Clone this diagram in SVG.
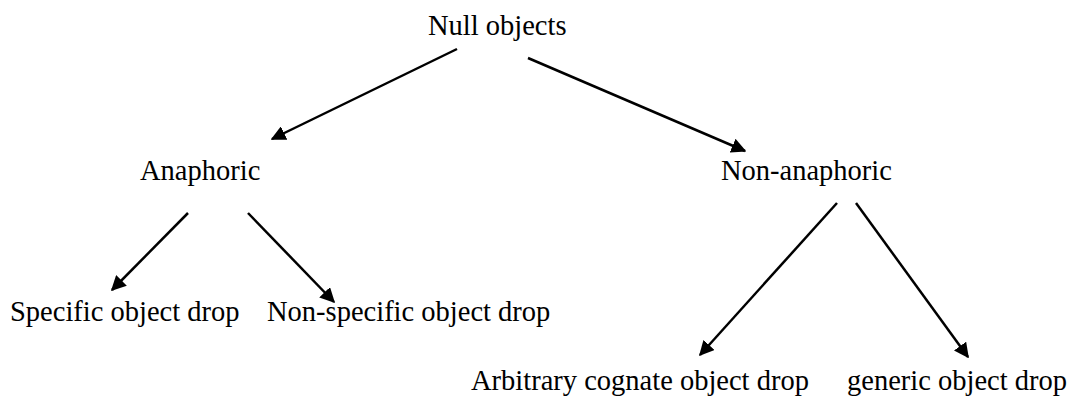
<svg xmlns="http://www.w3.org/2000/svg" width="1079" height="401" viewBox="0 0 1079 401">
<defs>
<style>
text{font-family:"Liberation Serif","Times New Roman",serif;font-size:28.5px;fill:#000}
.c line{stroke:#000;stroke-width:2.5;marker-end:url(#ah)}
</style>
<marker id="ah" viewBox="0 0 10 10" refX="9" refY="5" markerWidth="6" markerHeight="6" markerUnits="strokeWidth" orient="auto"><path d="M0,0 L10,5 L0,10 z" fill="#000"/></marker>
</defs>
<rect width="1079" height="401" fill="#fff"/>
<g id="n-null"><text x="428" y="35">Null objects</text></g>
<g id="n-anaphoric"><text x="140" y="180">Anaphoric</text></g>
<g id="n-nonanaphoric"><text x="721" y="180">Non-anaphoric</text></g>
<g id="n-specific"><text x="10" y="321">Specific object drop</text></g>
<g id="n-nonspecific"><text x="267" y="321">Non-specific object drop</text></g>
<g id="n-arbitrary"><text x="471" y="390">Arbitrary cognate object drop</text></g>
<g id="n-generic"><text x="847" y="390">generic object drop</text></g>
<g class="c" id="connectors">
<line x1="457" y1="49" x2="272" y2="139"/>
<line x1="528" y1="58" x2="745" y2="151"/>
<line x1="188" y1="213" x2="112" y2="290"/>
<line x1="248" y1="213" x2="334" y2="302"/>
<line x1="837" y1="203" x2="700" y2="355"/>
<line x1="856" y1="203" x2="968" y2="357"/>
</g>
</svg>
